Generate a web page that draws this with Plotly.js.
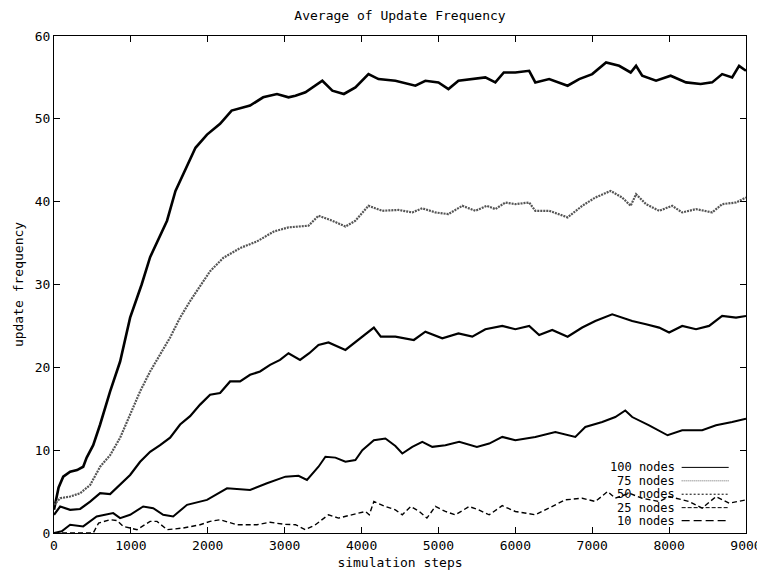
<!DOCTYPE html>
<html>
<head>
<meta charset="utf-8">
<script src="https://cdn.plot.ly/plotly-3.0.1.min.js"></script>
<style>html,body{margin:0;padding:0;background:#fff;}#chart{width:757px;height:575px;}</style>
</head>
<body>
<div id="chart"></div>
<script>
// ---- data ----
const seriesNames = ["100 nodes", "75 nodes", "50 nodes", "25 nodes", "10 nodes"];

const steps100 = [0,60,120,210,300,380,425,510,600,730,860,990,1080,1140,1250,1380,1470,1580,1680,1840,1990,2160,2310,2550,2720,2900,3050,3140,3270,3440,3490,3620,3770,3920,4090,4220,4440,4700,4830,5000,5130,5260,5440,5610,5740,5850,6000,6180,6260,6440,6680,6830,7000,7180,7350,7500,7570,7650,7830,8020,8220,8410,8560,8690,8820,8910,9000];
const freq100  = [2.8,5.5,6.8,7.4,7.6,8.0,9.1,10.6,13.1,17.1,20.7,26.0,28.4,30.0,33.3,36.0,37.7,41.3,43.3,46.5,48.1,49.4,51.0,51.6,52.6,53.0,52.6,52.8,53.2,54.2,54.6,53.4,53.0,53.8,55.4,54.8,54.6,54.0,54.6,54.4,53.6,54.6,54.8,55.0,54.4,55.6,55.6,55.8,54.4,54.8,54.0,54.8,55.4,56.8,56.4,55.6,56.4,55.2,54.6,55.2,54.4,54.2,54.4,55.4,55.0,56.4,55.8];

const steps75 = [0,80,210,340,470,600,730,860,990,1120,1250,1380,1510,1640,1770,1900,2030,2200,2420,2640,2860,3050,3180,3310,3440,3620,3790,3920,4090,4270,4480,4660,4790,4960,5130,5310,5480,5630,5740,5870,6000,6180,6260,6440,6680,6870,7040,7240,7390,7500,7570,7700,7870,8040,8170,8350,8560,8690,8870,9000];
const freq75  = [3.4,4.2,4.4,4.8,5.8,8.0,9.4,11.5,14.3,17.1,19.5,21.5,23.6,26.0,28.0,29.8,31.6,33.2,34.4,35.2,36.4,36.9,37.0,37.1,38.3,37.7,37.0,37.7,39.5,38.9,39.0,38.7,39.2,38.7,38.5,39.5,38.9,39.5,39.1,39.9,39.7,39.9,38.9,38.9,38.1,39.5,40.5,41.3,40.5,39.5,40.9,39.7,38.9,39.5,38.7,39.1,38.7,39.7,39.9,40.5];

const steps50 = [0,80,210,340,470,600,730,860,990,1120,1250,1380,1510,1640,1770,1900,2030,2160,2290,2420,2550,2680,2810,2940,3050,3200,3320,3440,3570,3790,3960,4160,4250,4440,4680,4830,5050,5260,5440,5610,5830,6000,6180,6310,6480,6680,6870,7040,7260,7390,7520,7700,7870,8000,8170,8350,8520,8690,8870,9000];
const freq50  = [2.2,3.2,2.8,2.9,3.8,4.8,4.7,5.8,7.0,8.6,9.8,10.6,11.5,13.1,14.1,15.5,16.7,16.9,18.3,18.3,19.1,19.5,20.3,20.9,21.7,20.9,21.7,22.7,23.0,22.1,23.3,24.8,23.7,23.7,23.3,24.3,23.5,24.1,23.7,24.6,25.0,24.6,25.0,23.9,24.5,23.7,24.8,25.6,26.4,26.0,25.6,25.2,24.8,24.2,25.0,24.6,25.0,26.2,26.0,26.2];

const steps25 = [0,100,210,380,555,770,860,990,1160,1290,1420,1550,1730,1990,2250,2550,2770,3010,3180,3290,3440,3530,3660,3790,3920,4010,4160,4310,4440,4530,4660,4790,4920,5090,5270,5500,5660,5830,6000,6260,6520,6780,6910,7130,7300,7430,7520,7740,7980,8170,8430,8610,8820,9000];
const freq25  = [0.0,0.2,1.0,0.8,2.0,2.4,1.8,2.2,3.2,3.0,2.2,2.0,3.4,4.0,5.4,5.2,6.0,6.8,6.9,6.4,8.0,9.2,9.1,8.6,8.8,10.0,11.2,11.4,10.5,9.6,10.4,11.0,10.4,10.6,11.0,10.4,10.8,11.6,11.2,11.6,12.2,11.6,12.8,13.4,14.0,14.8,14.0,13.0,11.8,12.4,12.4,13.0,13.4,13.8];

const steps10 = [0,510,580,730,820,900,1080,1250,1340,1470,1680,1900,2030,2160,2380,2640,2810,2990,3140,3270,3400,3570,3700,3880,4050,4100,4160,4310,4440,4530,4640,4750,4850,4960,5090,5220,5400,5520,5660,5830,6000,6260,6440,6650,6870,7040,7200,7300,7480,7650,7870,8000,8260,8430,8610,8780,9000];
const freq10  = [0.0,0.0,1.2,1.6,1.5,0.8,0.4,1.4,1.4,0.4,0.6,1.0,1.4,1.6,1.0,1.0,1.3,1.05,1.0,0.4,1.0,2.2,1.8,2.2,2.6,2.2,3.8,3.2,2.8,2.2,3.2,2.6,1.8,3.2,2.6,2.2,3.2,2.8,2.2,3.3,2.6,2.2,3.0,4.0,4.2,3.8,5.0,4.2,4.8,4.2,3.8,4.4,3.8,3.0,4.4,3.6,4.0];

const xTicks = [0,1000,2000,3000,4000,5000,6000,7000,8000,9000];
const yTicks = [0,10,20,30,40,50,60];

// ---- styles ----
const FONT = "DejaVu Sans Mono, monospace";
const lineStyles = [
  {color:"#000", width:2.6, dash:"solid"},
  {color:"#555", width:2.2, dash:"2px,1px"},
  {color:"#000", width:2.2, dash:"solid"},
  {color:"#000", width:2.0, dash:"solid"},
  {color:"#000", width:1.4, dash:"5px,3px"}
];
const legendStyles = [
  {color:"#000", width:1, dash:"solid"},
  {color:"#666", width:1, dash:"1px,1px"},
  {color:"#000", width:1, dash:"2px,2px"},
  {color:"#000", width:1, dash:"4px,2px"},
  {color:"#000", width:1.3, dash:"8px,4px"}
];

const xs = [steps100, steps75, steps50, steps25, steps10];
const ys = [freq100, freq75, freq50, freq25, freq10];

const traces = seriesNames.map((n,i)=>({
  type:"scatter", mode:"lines", name:n, x:xs[i], y:ys[i],
  line:Object.assign({shape:"linear"}, lineStyles[i]),
  showlegend:false, hoverinfo:"skip"
}));

// gnuplot-like key: text on the left, line sample on the right
const keyRowsY = [0.132, 0.105, 0.078, 0.051, 0.025];
const annotations = [];
const shapes = [];
seriesNames.forEach((n,i)=>{
  annotations.push({xref:"paper", yref:"paper", x:0.9, y:keyRowsY[i], text:n,
    showarrow:false, xanchor:"right", yanchor:"middle", font:{family:FONT, size:12, color:"#000"}});
  shapes.push({type:"line", xref:"paper", yref:"paper", x0:0.907, x1:0.975, y0:keyRowsY[i], y1:keyRowsY[i],
    line:legendStyles[i]});
});

const axisCommon = {
  showline:true, linecolor:"#000", linewidth:1, mirror:"ticks",
  ticks:"inside", ticklen:6, tickwidth:1, tickcolor:"#000",
  showgrid:false, zeroline:false,
  tickfont:{family:FONT, size:13, color:"#000"}
};

const layout = {
  width:757, height:575,
  margin:{l:54, r:11, t:36, b:42, pad:0},
  paper_bgcolor:"#fff", plot_bgcolor:"#fff",
  font:{family:FONT, size:13, color:"#000"},
  title:{text:"Average of Update Frequency", x:0.5, xref:"paper", y:0.974, yref:"container", yanchor:"middle",
         font:{family:FONT, size:13, color:"#000"}},
  xaxis:Object.assign({}, axisCommon, {range:[0,9000], tickvals:xTicks, ticktext:xTicks.map(String),
         ticklabeloverflow:"allow",
         title:{text:"simulation steps", standoff:6, font:{family:FONT, size:13, color:"#000"}}}),
  yaxis:Object.assign({}, axisCommon, {range:[0,60], tickvals:yTicks, ticktext:yTicks.map(String),
         title:{text:"update frequency", standoff:8, font:{family:FONT, size:13, color:"#000"}}}),
  showlegend:false,
  annotations:annotations,
  shapes:shapes
};

Plotly.newPlot("chart", traces, layout, {displayModeBar:false, staticPlot:true});
</script>
</body>
</html>
